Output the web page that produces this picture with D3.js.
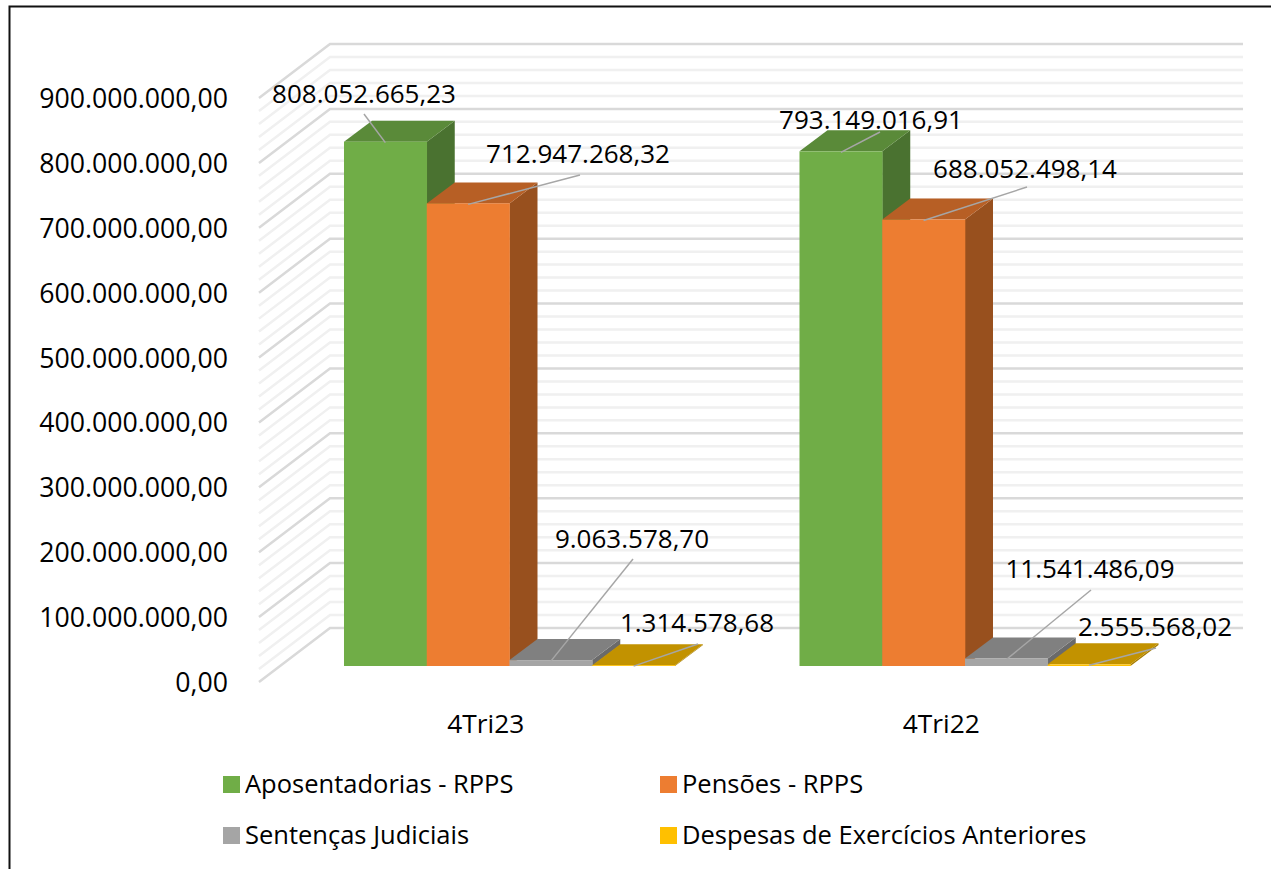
<!DOCTYPE html>
<html><head><meta charset="utf-8">
<script src="https://cdn.jsdelivr.net/npm/d3@7/dist/d3.min.js"></script>
<style>html,body{margin:0;padding:0;background:#fff}svg{display:block}text{font-family:"Open Sans",sans-serif;fill:#000}</style>
</head><body><svg id="c" width="1271" height="869"></svg>
<script>
const categories = ["4Tri23", "4Tri22"];
const seriesNames = ["Aposentadorias - RPPS", "Pensões - RPPS", "Sentenças Judiciais", "Despesas de Exercícios Anteriores"];
const aposentadorias = [808052665.23, 793149016.91];
const pensoes = [712947268.32, 688052498.14];
const sentencas = [9063578.70, 11541486.09];
const despesas = [1314578.68, 2555568.02];
const tickValues = [0,100,200,300,400,500,600,700,800,900].map(d => d*1e6);
const minorValues = d3.range(0, 900.01, 20).map(d => d*1e6).filter(v => v % 1e8 !== 0);

const frontColors = ["#70ad47","#ed7d31","#a5a5a5","#ffc000"];
const topColors = ["#5a8a39","#b75f25","#808080","#c29200"];
const sideColors = ["#4a7230","#98501e","#6a6a6a","#a67c00"];
const seriesValues = [aposentadorias, pensoes, sentencas, despesas];

// label layout: [group][series] -> label centre, baseline, leader start
const labelLayout = [
 [{x:364,y:103,lx:364,ly:114},{x:578,y:163,lx:580,ly:175},{x:632,y:548,lx:633,ly:559},{x:697,y:632,lx:698,ly:644}],
 [{x:871,y:129,lx:880,ly:132},{x:1025,y:178,lx:1027,ly:187},{x:1090,y:578,lx:1091,ly:590},{x:1155,y:636,lx:1156,ly:648}]
];

const svg = d3.select("#c");
const labelSize = 26, tickSize = 26.7, catSize = 26.3, legendSize = 25.5;
const loc = d3.formatLocale({decimal:",",thousands:".",grouping:[3],currency:["",""]});
const fmt = loc.format(",.2f");

// border
svg.append("path").attr("d","M9.5,869V6.5H1271").attr("fill","none").attr("stroke","#111").attr("stroke-width",2);

const yMax = 900e6;
const yWall = d3.scaleLinear().domain([0,yMax]).range([628,44]);
const yFront = d3.scaleLinear().domain([0,yMax]).range([683,99]);
const yBar = d3.scaleLinear().domain([0,yMax]).range([666,82]);
const depth = {wx:71, wy:54, bx:28, by:21};
const wallLeft = 330, wallRight = 1243;

const grid = svg.append("g").attr("fill","none");
function gridLine(v){ const y=yWall(v); return `M${wallLeft-depth.wx},${y+depth.wy}L${wallLeft},${y}H${wallRight}`; }
grid.selectAll(".minor").data(minorValues).join("path").attr("class","minor").attr("d",gridLine).attr("stroke","#f0f0f0").attr("stroke-width",2.5);
grid.selectAll(".major").data(tickValues).join("path").attr("class","major").attr("d",gridLine).attr("stroke","#d9d9d9").attr("stroke-width",2.5);

const xGroup = d3.scaleBand().domain(d3.range(categories.length)).range([281.75,1192.75]).paddingInner(0.2733).paddingOuter(0.13665);
const xSeries = d3.scaleBand().domain(d3.range(seriesNames.length)).range([0,xGroup.bandwidth()]);

const bars = [];
categories.forEach((c,g)=>seriesNames.forEach((s,i)=>bars.push({g,i,v:seriesValues[i][g]})));
const barG = svg.append("g").selectAll("g").data(bars).join("g");
const X = d=>xGroup(d.g)+xSeries(d.i), W = xSeries.bandwidth();
barG.append("path").attr("fill",d=>sideColors[d.i]).attr("d",d=>{
  const x=X(d)+W,t=yBar(d.v),b=yBar(0);
  return `M${x},${t}l${depth.bx},${-depth.by}V${b-depth.by}L${x},${b}Z`;});
barG.append("path").attr("fill",d=>topColors[d.i]).attr("d",d=>{
  const x=X(d),t=yBar(d.v);
  return `M${x},${t}l${depth.bx},${-depth.by}h${W}l${-depth.bx},${depth.by}Z`;});
barG.append("rect").attr("fill",d=>frontColors[d.i]).attr("x",X).attr("width",W+0.3).attr("y",d=>yBar(d.v)).attr("height",d=>yBar(0)-yBar(d.v));

// leaders
svg.append("g").selectAll("line").data(bars).join("line")
 .attr("stroke","#a6a6a6").attr("stroke-width",1.5)
 .attr("x1",d=>labelLayout[d.g][d.i].lx).attr("y1",d=>labelLayout[d.g][d.i].ly)
 .attr("x2",d=>X(d)+W/2).attr("y2",d=>yBar(d.v)+1);
// labels
svg.append("g").selectAll("text").data(bars).join("text")
 .attr("text-anchor","middle").attr("font-size",labelSize)
 .attr("x",d=>labelLayout[d.g][d.i].x).attr("y",d=>labelLayout[d.g][d.i].y).text(d=>fmt(d.v));

// y axis
const yAxis = d3.axisLeft(yFront).tickValues(tickValues).tickFormat(fmt).tickSize(0).tickPadding(0);
const ya = svg.append("g").attr("transform","translate(228,0)").call(yAxis);
ya.select(".domain").remove();
ya.attr("font-family",null);
ya.selectAll("text").attr("font-size",tickSize);

// x axis
const xCat = d3.scaleBand().domain(categories).range([258,1169]);
const xa = svg.append("g").attr("transform","translate(0,709)").call(d3.axisBottom(xCat).tickSize(0).tickPadding(0));
xa.select(".domain").remove();
xa.attr("font-family",null);
xa.selectAll("text").attr("font-size",catSize).attr("dy","0.9em");

// legend
const legendX = d3.scaleOrdinal().domain([0,1,2,3]).range([223,660,223,660]);
const legendY = d3.scaleOrdinal().domain([0,1,2,3]).range([784,784,835,835]);
const lg = svg.append("g").selectAll("g").data(seriesNames).join("g").attr("transform",(d,i)=>`translate(${legendX(i)},${legendY(i)})`);
lg.append("rect").attr("x",0).attr("y",-8).attr("width",17).attr("height",17).attr("fill",(d,i)=>frontColors[i]);
lg.append("text").attr("x",22).attr("y",9).attr("font-size",legendSize).text(d=>d);
</script></body></html>
